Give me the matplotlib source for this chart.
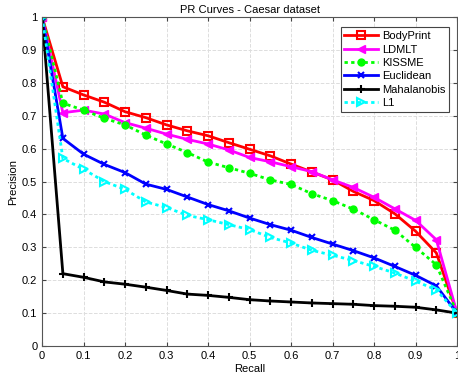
import matplotlib
matplotlib.use('Agg')
import matplotlib.pyplot as plt
import numpy as np

plt.rcParams['font.family'] = ['Liberation Sans', 'DejaVu Sans']

# recall points
recall = [0, 0.05, 0.1, 0.15, 0.2, 0.25, 0.3, 0.35, 0.4, 0.45, 0.5,
          0.55, 0.6, 0.65, 0.7, 0.75, 0.8, 0.85, 0.9, 0.95, 1.0]

bodyprint = [1.0, 0.788, 0.763, 0.741, 0.712, 0.694, 0.672, 0.654, 0.639, 0.618, 0.598,
             0.578, 0.553, 0.529, 0.505, 0.470, 0.442, 0.402, 0.349, 0.283, 0.100]
ldmlt = [1.0, 0.709, 0.717, 0.705, 0.679, 0.662, 0.644, 0.628, 0.614, 0.596, 0.573,
         0.560, 0.545, 0.530, 0.505, 0.482, 0.452, 0.417, 0.382, 0.323, 0.100]
kissme = [1.0, 0.738, 0.717, 0.692, 0.672, 0.641, 0.614, 0.588, 0.559, 0.542, 0.525,
          0.505, 0.491, 0.463, 0.442, 0.416, 0.384, 0.352, 0.300, 0.247, 0.100]
euclidean = [1.0, 0.631, 0.583, 0.552, 0.527, 0.492, 0.476, 0.453, 0.430, 0.411, 0.389,
             0.369, 0.352, 0.330, 0.310, 0.290, 0.268, 0.242, 0.215, 0.183, 0.100]
mahalanobis = [1.0, 0.220, 0.209, 0.195, 0.188, 0.179, 0.169, 0.158, 0.154, 0.148, 0.141,
               0.137, 0.134, 0.131, 0.129, 0.127, 0.123, 0.121, 0.118, 0.110, 0.100]
l1 = [1.0, 0.570, 0.537, 0.500, 0.476, 0.438, 0.421, 0.397, 0.384, 0.369, 0.354,
      0.330, 0.313, 0.291, 0.276, 0.260, 0.242, 0.222, 0.197, 0.171, 0.100]

fig = plt.figure(figsize=(4.58, 3.77), dpi=100)
ax = fig.add_axes([0.092, 0.082, 0.906, 0.873])

dots = (0, (1.2, 1.2))
ax.plot(recall, bodyprint, color='red', lw=2, marker='s', ms=6, mfc='none', mew=1.5, label='BodyPrint')
ax.plot(recall, ldmlt, color='magenta', lw=2, marker='<', ms=6, mfc='magenta', label='LDMLT')
ax.plot(recall, kissme, color='#00ff00', lw=2, ls=dots, marker='o', ms=5, mfc='#00ff00', label='KISSME')
ax.plot(recall, euclidean, color='blue', lw=2, marker='x', ms=5, mew=1.5, label='Euclidean')
ax.plot(recall, mahalanobis, color='black', lw=2, marker='+', ms=6, mew=1.5, label='Mahalanobis')
ax.plot(recall, l1, color='cyan', lw=2, ls=dots, marker='>', ms=6, mfc='none', mew=1.5, label='L1')

ax.set_xlim(0, 1)
ax.set_ylim(0, 1)
ticks = np.round(np.arange(0, 1.01, 0.1), 1)
ax.set_xticks(ticks)
ax.set_yticks(ticks)
ax.set_xticklabels(['0'] + ['%g' % t for t in ticks[1:-1]] + ['1'])
ax.set_yticklabels(['0'] + ['%g' % t for t in ticks[1:-1]] + ['1'])
ax.tick_params(direction='in', top=True, right=True, labelsize=8, length=3, color='#444444')
ax.grid(True, ls='--', color='#dddddd', lw=0.7)
for s in ax.spines.values():
    s.set_color('#555555')

ax.set_xlabel('Recall', fontsize=8, labelpad=2)
ax.set_ylabel('Precision', fontsize=8, labelpad=3)
ax.set_title('PR Curves - Caesar dataset', fontsize=8, pad=3)

leg = ax.legend(loc='upper right', fontsize=8, fancybox=False, framealpha=1,
                edgecolor='#444444', borderpad=0.35, labelspacing=0.3,
                handlelength=3, handletextpad=0.4, bbox_to_anchor=(0.995, 0.985))
leg.get_frame().set_linewidth(0.8)

fig.savefig('out.png', dpi=100)
